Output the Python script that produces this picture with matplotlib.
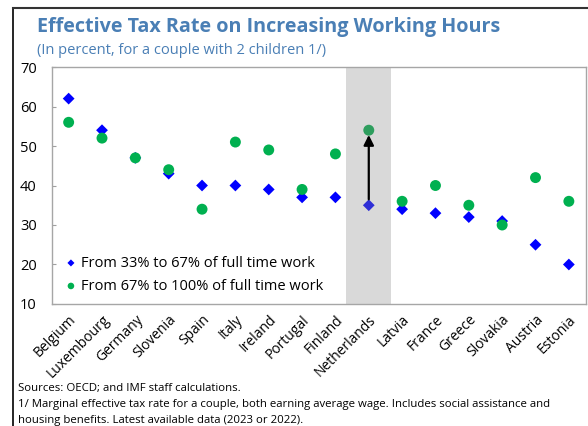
import matplotlib.pyplot as plt
from matplotlib.lines import Line2D

plt.rcParams['font.family'] = ['Open Sans', 'DejaVu Sans']

countries = ["Belgium", "Luxembourg", "Germany", "Slovenia", "Spain", "Italy",
             "Ireland", "Portugal", "Finland", "Netherlands", "Latvia", "France",
             "Greece", "Slovakia", "Austria", "Estonia"]
low_hours = [62, 54, 47, 43, 40, 40, 39, 37, 37, 35, 34, 33, 32, 31, 25, 20]
high_hours = [56, 52, 47, 44, 34, 51, 49, 39, 48, 54, 36, 40, 35, 30, 42, 36]
highlight = "Netherlands"
y_ticks = [10, 20, 30, 40, 50, 60, 70]

title_color = "#4a7fb5"

fig = plt.figure(figsize=(5.88, 4.26), dpi=100)
ax = fig.add_axes([0.0884, 0.2864, 0.9074, 0.5563])

x = list(range(len(countries)))
hi = countries.index(highlight)

# shaded band for the highlighted country
ax.axvspan(hi - 0.68, hi + 0.68, color="#d9d9d9", zorder=0, lw=0)

blue_cols = ["#2e2ed6" if c == highlight else "#0000ff" for c in countries]
green_cols = ["#2e9e5e" if c == highlight else "#00b050" for c in countries]

ax.scatter(x, low_hours, marker="D", s=36, c=blue_cols, zorder=2, lw=0,
           label="From 33% to 67% of full time work")
ax.scatter(x, high_hours, marker="o", s=62, c=green_cols, zorder=3, lw=0,
           label="From 67% to 100% of full time work")

# arrow for the highlighted country
ax.annotate("", xy=(hi, high_hours[hi] - 1.2), xytext=(hi, low_hours[hi] + 1.5),
            arrowprops=dict(arrowstyle="-|>", color="black", lw=1.6,
                            mutation_scale=15, shrinkA=0, shrinkB=0),
            zorder=4)

ax.set_xlim(-0.5, len(countries) - 0.5)
ax.set_ylim(10, 70)
ax.set_yticks(y_ticks)
ax.set_xticks(x)
ax.set_xticklabels(countries, rotation=45, ha="right", rotation_mode="anchor",
                   fontsize=10)
ax.tick_params(axis="y", direction="in", length=3, color="#a0a0a0", pad=11,
               labelsize=10.5)
ax.tick_params(axis="x", length=0, pad=6)
for sp in ax.spines.values():
    sp.set_color("#a6a6a6")
    sp.set_linewidth(1)

ax.legend(loc="lower left", frameon=False, fontsize=10.5, markerscale=0.6,
          handletextpad=0.1, handlelength=1.2, borderaxespad=0.3,
          labelspacing=0.55, bbox_to_anchor=(0.0, 0.0))

fig.text(37 / 588, 1 - 27 / 426, "Effective Tax Rate on Increasing Working Hours",
         fontsize=14.2, fontweight="bold", color=title_color, va="center")
fig.text(37 / 588, 1 - 51 / 426, "(In percent, for a couple with 2 children 1/)",
         fontsize=10.5, color=title_color, va="center")

fig.text(18 / 588, 1 - 388 / 426, "Sources: OECD; and IMF staff calculations.",
         fontsize=8.2, va="center")
fig.text(18 / 588, 1 - 405 / 426,
         "1/ Marginal effective tax rate for a couple, both earning average wage. "
         "Includes social assistance and", fontsize=8.2, va="center")
fig.text(18 / 588, 1 - 421 / 426,
         "housing benefits. Latest available data (2023 or 2022).",
         fontsize=8.2, va="center")

# outer frame lines
fig.add_artist(Line2D([13 / 588, 13 / 588], [0, 1 - 8 / 426], color="black", lw=1.2,
                      transform=fig.transFigure))
fig.add_artist(Line2D([13 / 588, 1], [1 - 8 / 426, 1 - 8 / 426], color="#333333",
                      lw=1.5, transform=fig.transFigure))

fig.savefig("out.png", dpi=100)
